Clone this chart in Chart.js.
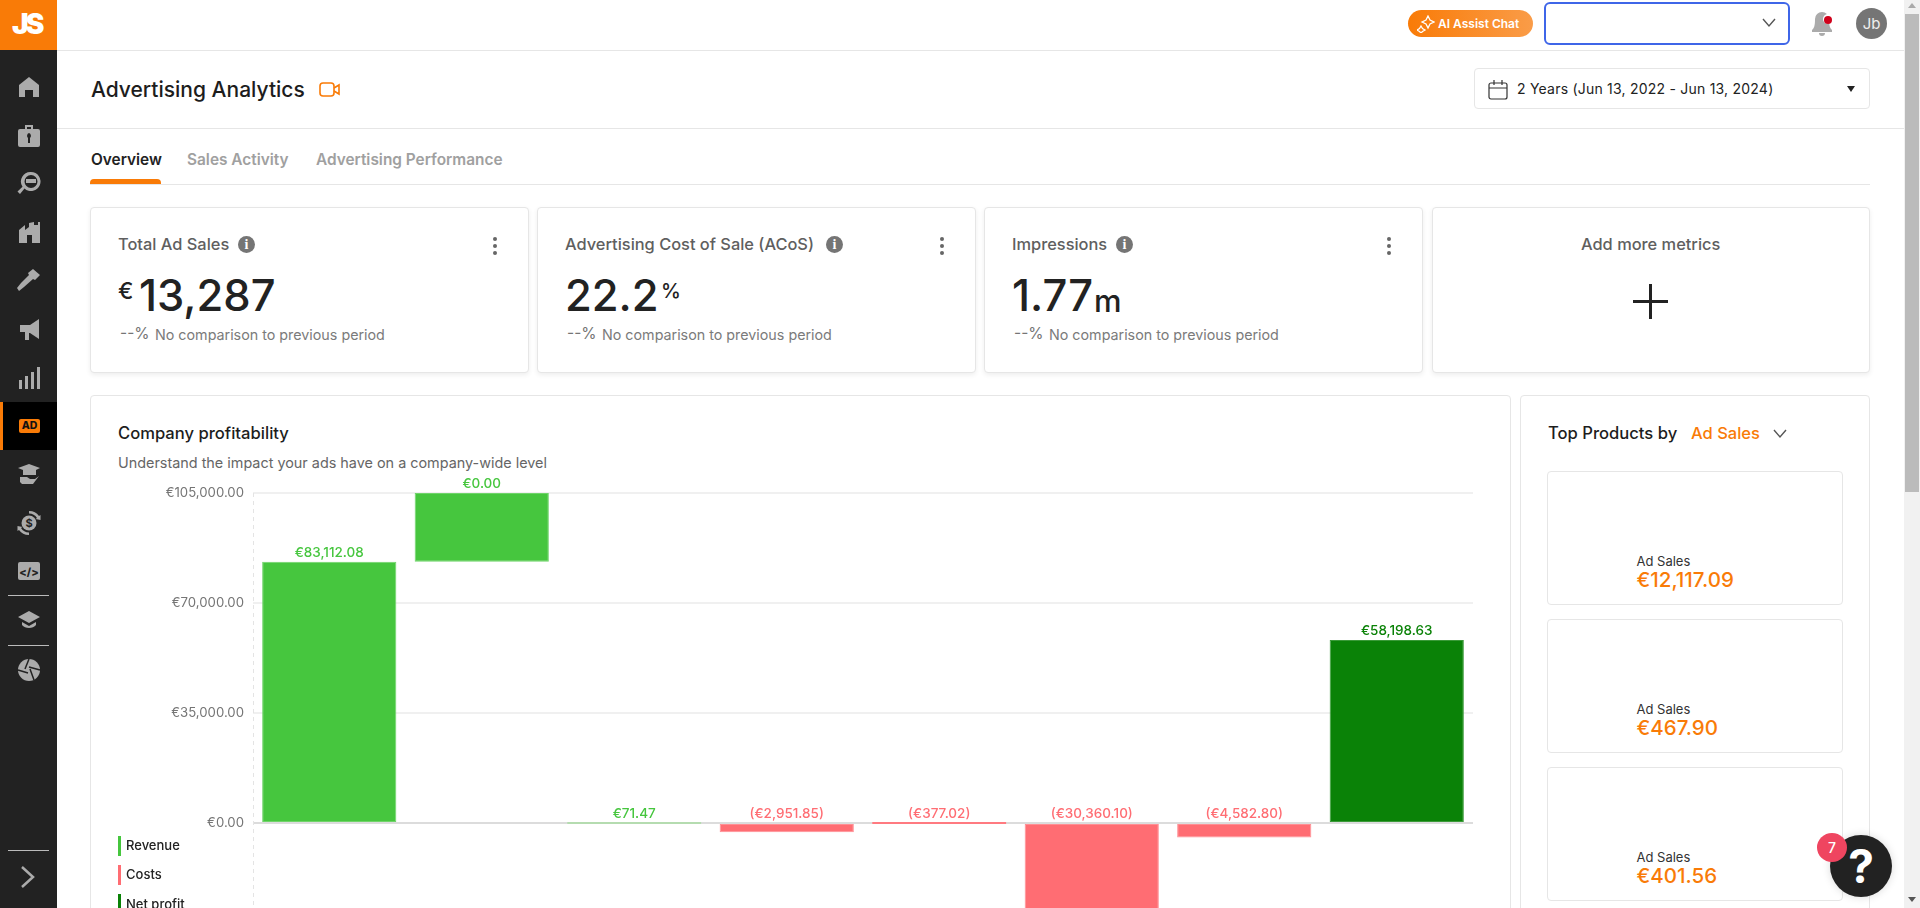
<!DOCTYPE html>
<html><head><meta charset="utf-8"><title>Advertising Analytics</title>
<script src="https://cdn.jsdelivr.net/npm/chart.js@4"></script>
<style>
html,body{margin:0;padding:0;width:1920px;height:908px;overflow:hidden;background:#fff;font-family:Inter,sans-serif;color:#222}
.a{position:absolute;white-space:nowrap}
.t{position:absolute;white-space:nowrap;line-height:1;transform:translateY(-50%)}
.card{position:absolute;box-sizing:border-box;background:#fff;border:1px solid #e6e6e6;border-radius:4px;box-shadow:0 2px 5px rgba(0,0,0,.07)}
.inner{position:absolute;box-sizing:border-box;left:1547px;width:296px;height:134px;background:#fff;border:1px solid #e6e6e6;border-radius:4px}
.h{position:absolute;background:#e6e6e6;height:1px}
.ct{font-size:16.4px;font-weight:500;color:#5f5f5f}
.ns{font-size:14.3px;color:#7b7b7b}
.dd{font-size:15.5px;color:#757575}
.info{position:absolute;width:17px;height:17px;border-radius:50%;background:#757575;color:#fff;font:700 14px/17px "Liberation Serif",serif;text-align:center}
.dots{position:absolute;width:4px;height:4px;border-radius:50%;background:#666;box-shadow:0 7px 0 #666,0 14px 0 #666}
.big{font-size:43.5px;font-weight:500;color:#222}
.ic{position:absolute;left:15px;width:28px;height:28px;fill:#ababab}
.sep{position:absolute;left:8px;width:41px;height:1px;background:#bbb}
.ads{font-size:13px;color:#333}
.adv{font-size:20.5px;font-weight:500;color:#f97b07}
.tab{font-size:15.4px;font-weight:600}
</style></head><body>
<!-- top bar and sidebar -->
<div class="a" style="left:0;top:0;width:57px;height:908px;background:#222"></div>
<div class="a" style="left:0;top:0;width:57px;height:50px;background:#f97b07"></div>
<div class="t" style="left:12px;top:24px;font:900 28px Inter,sans-serif;color:#fff;letter-spacing:-3px">JS</div>
<div class="a" style="left:0;top:402px;width:57px;height:48px;background:#000"></div>
<div class="a" style="left:0;top:402px;width:3px;height:48px;background:#f97b07"></div>
<div class="a" style="left:19px;top:419px;width:21px;height:14px;background:#f97b07;border-radius:2px;color:#111;font:800 10.5px/14px Inter,sans-serif;text-align:center">AD</div>
<svg class="ic" style="top:73px" viewBox="0 0 28 28"><path d="M14 4 L24 12 V24 H18 V17 H10 V24 H4 V12Z"/></svg>
<svg class="ic" style="top:122px" viewBox="0 0 28 28"><path d="M10 3h8v4h5a2 2 0 0 1 2 2v14a2 2 0 0 1-2 2H5a2 2 0 0 1-2-2V9a2 2 0 0 1 2-2h5zM12 5v2h4V5zM14 11a3 3 0 0 0-1 5v5h2v-5a3 3 0 0 0-1-5z" fill-rule="evenodd"/></svg>
<svg class="ic" style="top:169px" viewBox="0 0 28 28"><path d="M16 3a9.5 9.5 0 1 1-6.5 16.400L5 25l-2.500-2.500 5-4.800A9.500 9.500 0 0 1 16 3zm0 3a6.500 6.500 0 1 0 0 13 6.500 6.500 0 0 0 0-13z" fill-rule="evenodd"/><rect x="11" y="10" width="10" height="4"/></svg>
<svg class="ic" style="top:218px" viewBox="0 0 28 28"><path d="M4 12l6-5v5l4-3V5l5-1v3h4v-3h2v21H4zM12 17v8h5v-8z" fill-rule="evenodd"/></svg>
<svg class="ic" style="top:266px" viewBox="0 0 28 28"><path d="M18 3l7 6-5 5-2-1-9 8-5 4-2-3 4-5 8-8-1-2z"/></svg>
<svg class="ic" style="top:315px" viewBox="0 0 28 28"><path d="M24 4v20l-9-6h-1v7h-4v-8H5v-7h10z"/></svg>
<svg class="ic" style="top:364px" viewBox="0 0 28 28"><rect x="4" y="16" width="3" height="9"/><rect x="10" y="12" width="3" height="13"/><rect x="16" y="8" width="3" height="17"/><rect x="22" y="3" width="3" height="22"/></svg>
<svg class="ic" style="top:460px" viewBox="0 0 28 28"><path d="M3 8l11-4 11 4-4 2v5H8v-5zM5 17h7l3 2h5l4-3-6 8H7l-2-2z"/></svg>
<svg class="ic" style="top:509px" viewBox="0 0 28 28"><circle cx="14" cy="14" r="7.500"/><path d="M14 2a12 12 0 0 1 10 5l1.500-1v5l-5-1 1.500-1A9.500 9.500 0 0 0 14 4.500zM14 26A12 12 0 0 1 4 21l-1.500 1v-5l5 1-1.500 1A9.500 9.500 0 0 0 14 23.500z"/><text x="14" y="18" font-size="11" font-weight="700" text-anchor="middle" fill="#222">$</text></svg>
<svg class="ic" style="top:557px" viewBox="0 0 28 28"><rect x="3" y="5" width="22" height="18" rx="2"/><text x="14" y="18.500" font-size="11" font-weight="800" text-anchor="middle" fill="#222">&lt;/&gt;</text></svg>
<div class="sep" style="top:595px"></div>
<svg class="ic" style="top:606px" viewBox="0 0 28 28"><path d="M14 5L3 11l11 6 11-6zM7 16v3c3 4 11 4 14 0v-3l-7 4z"/></svg>
<div class="sep" style="top:645px"></div>
<svg class="ic" style="top:656px" viewBox="0 0 28 28"><circle cx="14" cy="14" r="11"/><path d="M14 3L10 13M25 14L14 11M19 24l-4-11M3 14l10 3" stroke="#222" stroke-width="1.500" fill="none"/></svg>
<div class="sep" style="top:850px"></div>
<svg class="a" style="left:19px;top:865px" width="18" height="24" viewBox="0 0 18 24"><path d="M3 2l11 10L3 22" fill="none" stroke="#ababab" stroke-width="2.500"/></svg>

<div class="h" style="left:57px;top:50px;width:1847px"></div>
<div class="a" style="left:1408px;top:10px;width:125px;height:27px;border-radius:14px;background:linear-gradient(90deg,#f97b07,#fa9c48)"></div>
<svg class="a" style="left:1417px;top:15px" width="18" height="18" viewBox="0 0 18 18"><path d="M11 1l2 4 4 2-4 2-2 4-2-4-4-2 4-2zM4 11l1.500 2.500L8 15l-2.500 1.500L4 18l-1.500-1.500L0 15l2.500-1.500z" fill="none" stroke="#fff" stroke-width="1.300"/></svg>
<div class="t" style="left:1438px;top:24px;font-size:12px;font-weight:600;color:#fff">AI Assist Chat</div>
<div class="a" style="left:1544px;top:2px;width:246px;height:43px;box-sizing:border-box;border:2px solid #3f66e8;border-radius:6px;background:#fff"></div>
<svg class="a" style="left:1762px;top:18px" width="14" height="10" viewBox="0 0 14 10"><path d="M1 1l6 7 6-7" fill="none" stroke="#555" stroke-width="1.400"/></svg>
<svg class="a" style="left:1810px;top:11px" width="24" height="26" viewBox="0 0 24 26"><path d="M12 1a7 7 0 0 1 7 7c0 7 1 9 3 11v2H2v-2c2-2 3-4 3-11a7 7 0 0 1 7-7zM9 22h6a3 3 0 0 1-6 0z" fill="#ababab"/><circle cx="18" cy="8" r="5" fill="#fff"/><circle cx="18" cy="9" r="4" fill="#d0021b"/></svg>
<div class="a" style="left:1856px;top:8px;width:31px;height:31px;border-radius:50%;background:#757575;color:#eee;font:400 15px/31px Inter,sans-serif;text-align:center">Jb</div>

<div class="t" style="left:91px;top:89px;font-size:21px;font-weight:500;color:#1d1d1d">Advertising Analytics</div>
<svg class="a" style="left:319px;top:81px" width="21" height="17" viewBox="0 0 21 17"><rect x="1" y="2" width="14" height="13" rx="3" fill="none" stroke="#f97b07" stroke-width="1.600"/><path d="M15 7l5-3v9l-5-3" fill="none" stroke="#f97b07" stroke-width="1.600"/></svg>
<div class="a" style="left:1474px;top:68px;width:396px;height:41px;box-sizing:border-box;border:1px solid #e6e6e6;border-radius:4px"></div>
<svg class="a" style="left:1488px;top:80px" width="20" height="20" viewBox="0 0 20 20"><rect x="1" y="3" width="18" height="16" rx="2" fill="none" stroke="#333" stroke-width="1.200"/><path d="M1 8h18M6 0v5M14 0v5" stroke="#333" stroke-width="1.200"/></svg>
<div class="t" style="left:1517px;top:89px;font-size:14px;letter-spacing:.22px;color:#222">2 Years (Jun 13, 2022 - Jun 13, 2024)</div>
<svg class="a" style="left:1847px;top:86px" width="8" height="6" viewBox="0 0 8 6"><path d="M0 0h8L4 6z" fill="#222"/></svg>
<div class="h" style="left:57px;top:128px;width:1847px"></div>

<div class="t tab" style="left:91px;top:160px;color:#222">Overview</div>
<div class="t tab" style="left:187px;top:160px;color:#a0a0a0">Sales Activity</div>
<div class="t tab" style="left:316px;top:160px;color:#a0a0a0">Advertising Performance</div>
<div class="h" style="left:90px;top:184px;width:1780px"></div>
<div class="a" style="left:90px;top:179px;width:71px;height:5px;background:#f97b07;border-radius:4px 4px 0 0"></div>

<!-- metric cards -->
<div class="card" style="left:90px;top:207px;width:439px;height:166px"></div>
<div class="card" style="left:537px;top:207px;width:439px;height:166px"></div>
<div class="card" style="left:984px;top:207px;width:439px;height:166px"></div>
<div class="card" style="left:1432px;top:207px;width:438px;height:166px"></div>

<div class="t ct" style="left:118px;top:244px">Total Ad Sales</div><div class="info" style="left:238px;top:236px">i</div><div class="dots" style="left:493px;top:237px"></div>
<div class="t" style="left:118px;top:291px;font-size:23px;font-weight:500">€</div><div class="t big" style="left:139px;top:296px">13,287</div>
<div class="t dd" style="left:120px;top:334px">--%</div><div class="t ns" style="left:155px;top:335px">No comparison to previous period</div>

<div class="t ct" style="left:565px;top:244px">Advertising Cost of Sale (ACoS)</div><div class="info" style="left:826px;top:236px">i</div><div class="dots" style="left:940px;top:237px"></div>
<div class="t big" style="left:565px;top:296px">22.2</div><div class="t" style="left:661px;top:291px;font-size:20px;font-weight:500">%</div>
<div class="t dd" style="left:567px;top:334px">--%</div><div class="t ns" style="left:602px;top:335px">No comparison to previous period</div>

<div class="t ct" style="left:1012px;top:244px">Impressions</div><div class="info" style="left:1116px;top:236px">i</div><div class="dots" style="left:1387px;top:237px"></div>
<div class="t big" style="left:1012px;top:296px">1.77</div><div class="t" style="left:1094px;top:300px;font-size:31px;font-weight:500">m</div>
<div class="t dd" style="left:1014px;top:334px">--%</div><div class="t ns" style="left:1049px;top:335px">No comparison to previous period</div>

<div class="t ct" style="left:1581px;top:244px">Add more metrics</div>
<div class="a" style="left:1633px;top:300px;width:35px;height:3px;background:#222"></div>
<div class="a" style="left:1649px;top:284px;width:3px;height:35px;background:#222"></div>

<!-- chart card -->
<div class="card" style="left:90px;top:395px;width:1421px;height:600px;box-shadow:none"></div>
<div class="t" style="left:118px;top:433px;font-size:16.6px;font-weight:500;color:#1d1d1d">Company profitability</div>
<div class="t" style="left:118px;top:463px;font-size:14.4px;color:#666">Understand the impact your ads have on a company-wide level</div>
<canvas id="c" class="a" style="left:96px;top:470px" width="1377" height="470"></canvas>
<div class="a" style="left:118px;top:836px;width:3px;height:20px;background:#46c63e"></div>
<div class="t" style="left:126px;top:845px;font-size:13px;font-weight:500">Revenue</div>
<div class="a" style="left:118px;top:865px;width:3px;height:20px;background:#ff6d73"></div>
<div class="t" style="left:126px;top:874px;font-size:13px;font-weight:500">Costs</div>
<div class="a" style="left:118px;top:894px;width:3px;height:20px;background:#0a8207"></div>
<div class="t" style="left:126px;top:904px;font-size:13px;font-weight:500">Net profit</div>

<!-- top products -->
<div class="card" style="left:1520px;top:395px;width:350px;height:600px;box-shadow:none"></div>
<div class="t" style="left:1548px;top:433px;font-size:16.6px;font-weight:500;color:#1d1d1d">Top Products by</div>
<div class="t" style="left:1691px;top:433px;font-size:16.5px;font-weight:500;color:#f97b07">Ad Sales</div>
<svg class="a" style="left:1773px;top:429px" width="14" height="10" viewBox="0 0 14 10"><path d="M1 1l6 7 6-7" fill="none" stroke="#555" stroke-width="1.400"/></svg>
<div class="inner" style="top:471px"></div><div class="t ads" style="left:1636.500px;top:561px">Ad Sales</div><div class="t adv" style="left:1636.500px;top:580px">€12,117.09</div>
<div class="inner" style="top:619px"></div><div class="t ads" style="left:1636.500px;top:709px">Ad Sales</div><div class="t adv" style="left:1636.500px;top:728px">€467.90</div>
<div class="inner" style="top:767px"></div><div class="t ads" style="left:1636.500px;top:857px">Ad Sales</div><div class="t adv" style="left:1636.500px;top:876px">€401.56</div>

<!-- help -->
<div class="a" style="left:1830px;top:835px;width:62px;height:62px;border-radius:50%;background:#222;box-shadow:0 0 8px rgba(0,0,0,.15);color:#fff;font:700 46px/62px Inter,sans-serif;text-align:center">?</div>
<div class="a" style="left:1817px;top:833px;width:30px;height:29px;border-radius:50%;background:#ef4560;color:#fff;font:500 14px/29px Inter,sans-serif;text-align:center">7</div>

<!-- scrollbar -->
<div class="a" style="left:1904px;top:0;width:16px;height:908px;background:#f1f1f1"></div>
<div class="a" style="left:1905px;top:14px;width:14px;height:478px;background:#bbb"></div>
<svg class="a" style="left:1908px;top:3px" width="8" height="6"><path d="M0 5h8L4 0z" fill="#aaa"/></svg>
<svg class="a" style="left:1908px;top:897px" width="8" height="6"><path d="M0 0h8L4 5z" fill="#555"/></svg>

<script>
const categories = ['Step 1','Step 2','Step 3','Step 4','Step 5','Step 6','Step 7','Step 8'];
const barStart = [0, 83112.08, 0, 0, 0, 0, 0, 0];
const barEnd = [83112.08, 105000, 71.47, -2951.85, -377.02, -30360.10, -4582.80, 58198.63];
const valueLabels = ['€83,112.08','€0.00','€71.47','(€2,951.85)','(€377.02)','(€30,360.10)','(€4,582.80)','€58,198.63'];
const barColors = ['#46c63e','#46c63e','#46c63e','#ff6d73','#ff6d73','#ff6d73','#ff6d73','#0a8207'];
const barEdges = ['#6fd469','#6fd469','#b5dcb0','#ff8f94','#ff7a80','#ff8f94','#ff8f94','#3a9a38'];
const tickValues = [-35000, 0, 35000, 70000, 105000];
const tickLabels = ['(€35,000.00)','€0.00','€35,000.00','€70,000.00','€105,000.00'];

const barLabels = {
  id:'barLabels',
  beforeDatasetsDraw(chart){
    const ctx = chart.ctx, a = chart.chartArea;
    ctx.save();
    ctx.strokeStyle = '#e4e4e4';
    ctx.lineWidth = 1;
    ctx.setLineDash([4,4]);
    ctx.beginPath();
    ctx.moveTo(a.left + .5, a.top);
    ctx.lineTo(a.left + .5, a.bottom);
    ctx.stroke();
    ctx.restore();
  },
  afterDatasetsDraw(chart){
    const ctx = chart.ctx, y = chart.scales.y;
    const bars = chart.getDatasetMeta(0).data;
    ctx.save();
    ctx.font = '500 13.5px Inter, sans-serif';
    ctx.textAlign = 'center';
    ctx.textBaseline = 'middle';
    bars.forEach((b,i)=>{
      ctx.fillStyle = barColors[i];
      ctx.fillText(valueLabels[i], b.x, y.getPixelForValue(Math.max(barStart[i], barEnd[i])) - 9);
    });
    ctx.restore();
  }
};

new Chart(document.getElementById('c'), {
  type:'bar',
  plugins:[barLabels],
  data:{labels:categories, datasets:[{
    data:barStart.map((s,i)=>[s,barEnd[i]]),
    backgroundColor:barColors,
    borderColor:barEdges,
    borderWidth:1,
    borderSkipped:false,
    barPercentage:0.88,
    categoryPercentage:1,
    minBarLength:2
  }]},
  options:{
    responsive:false, animation:false, devicePixelRatio:1,
    layout:{padding:{top:23,bottom:7,left:0,right:0}},
    plugins:{legend:{display:false},tooltip:{enabled:false},title:{display:false}},
    scales:{
      x:{display:false},
      y:{
        min:-35000,max:105000,
        afterFit(s){s.width=157;s.paddingTop=0;s.paddingBottom=0},
        afterBuildTicks(s){s.ticks=tickValues.map(v=>({value:v}))},
        border:{display:false},
        grid:{drawTicks:false,lineWidth:2,color:c=>c.tick&&c.tick.value===0?'#dcdcdc':'#f0f0f0'},
        ticks:{padding:9,color:'#757575',font:{family:'Inter, sans-serif',size:13.2},
          callback:v=>tickLabels[tickValues.indexOf(v)]}
      }
    }
  }
});
</script>
</body></html>
